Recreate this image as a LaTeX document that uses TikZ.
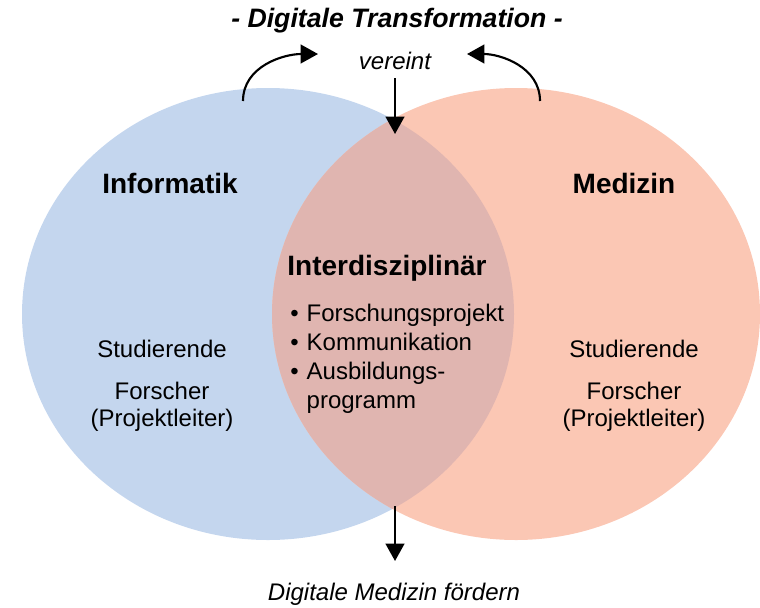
\documentclass[tikz,border=0pt]{standalone}
\usepackage{fontspec}
\setmainfont{Liberation Sans}
\usepackage{tikz}
\usetikzlibrary{positioning, arrows.meta}

\definecolor{infoblue}{RGB}{196,214,238}
\definecolor{medsalmon}{RGB}{251,199,180}
\definecolor{mixrose}{RGB}{224,181,176}

\begin{document}
\begin{tikzpicture}[
        x=0.75pt, y=-0.75pt,
        headline/.style={font=\fontsize{21}{25}\selectfont\bfseries, inner sep=0pt},
        bodytext/.style={font=\fontsize{18}{20.3}\selectfont, align=center, inner sep=0pt},
        slanted/.style={font=\fontsize{18}{21.6}\selectfont\itshape, inner sep=0pt},
        arrow/.style={line width=1.6pt, -{Triangle[length=13pt, width=14pt]}}
    ]
        \useasboundingbox (0,0) rectangle (760,607);

        % ===== Kreise =====
        \fill [infoblue] (268,314) ellipse [x radius=246, y radius=226];
        \fill [medsalmon] (516,314) ellipse [x radius=244, y radius=226];
        \begin{scope}
            \clip (268,314) ellipse [x radius=246, y radius=226];
            \fill [mixrose] (516,314) ellipse [x radius=244, y radius=226];
        \end{scope}

        % ===== Texte =====
        \node (title) [font=\fontsize{20}{24}\selectfont\bfseries\itshape, inner sep=0pt] at (397,21) {- Digitale Transformation -};
        \node (vereint) [slanted] at (395,61) {vereint};
        \node (info) [headline] at (170,183) {Informatik};
        \node (med) [headline] at (624,183) {Medizin};
        \node (inter) [headline] at (387,268) {Interdisziplinär};
        \node (liste) [bodytext, font=\fontsize{18}{21.8}\selectfont, anchor=base west] at (290,321) {%
            \begin{tabular}[t]{@{}l@{\hspace{6pt}}l@{}}
                \textbullet & Forschungsprojekt\\
                \textbullet & Kommunikation\\
                \textbullet & Ausbildungs-\\
                            & programm
            \end{tabular}};
        \node (studL) [bodytext] at (162,349) {Studierende};
        \node (forschL) [bodytext] at (162,407) {Forscher\\(Projektleiter)};
        \node (studR) [bodytext] at (634,349) {Studierende};
        \node (forschR) [bodytext] at (634,407) {Forscher\\(Projektleiter)};
        \node (ziel) [slanted] at (394,594) {Digitale Medizin fördern};

        % ===== Pfeile =====
        \coordinate (vereintfuss) at (395,78);
        \coordinate (oben) at (395,134);
        \coordinate (unten) at (395,506);
        \coordinate (unten2) at (395,561);
        \coordinate (startL) at (243,101);
        \coordinate (startR) at (540,101);
        \coordinate (endL) at (318,54);
        \coordinate (endR) at (467,54);

        \draw [arrow] (vereintfuss) -- (oben);
        \draw [arrow] (unten) -- (unten2);
        \draw [arrow] (startL) to[out=90, in=180] (endL);
        \draw [arrow] (startR) to[out=90, in=0] (endR);

    \end{tikzpicture}
\end{document}
